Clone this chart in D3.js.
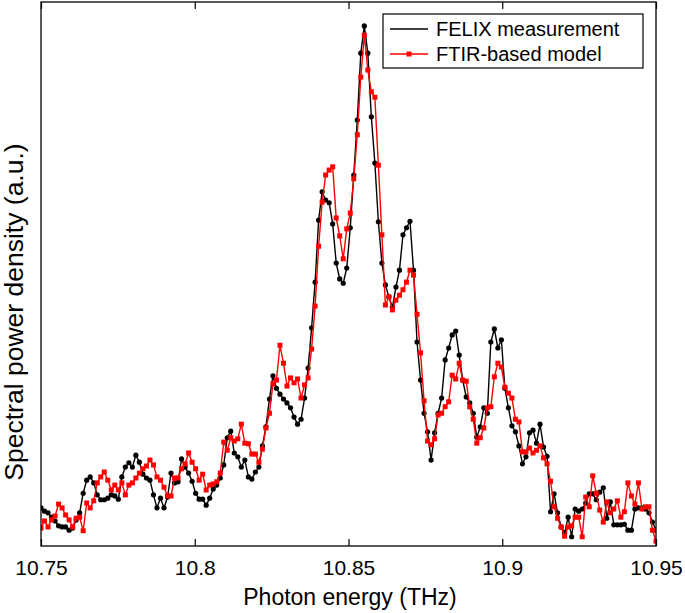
<!DOCTYPE html>
<html>
<head>
<meta charset="utf-8">
<script src="https://cdn.jsdelivr.net/npm/d3@7"></script>
<style>
  html, body { margin: 0; padding: 0; background: #fff; }
  svg { display: block; font-family: "Liberation Sans", Arial, Helvetica, sans-serif; }
</style>
</head>
<body>
<svg id="chart"></svg>
<script>
// Data: spectra sampled on a common photon-energy grid (176 points, 10.75–10.95 THz)
const freqStart = 10.75;
const freqEnd = 10.95;
const nPoints = 176;
const xTicks = [10.75, 10.8, 10.85, 10.9, 10.95];
const seriesNames = ["FELIX measurement", "FTIR-based model"];

// normalised spectral power density (a.u.)
const felix = [
  .070, .064, .061, .053, .046, .037, .035, .035, .029, .033,
  .048, .061, .097, .121, .127, .116, .094, .085, .085, .088,
  .094, .092, .086, .127, .145, .153, .145, .167, .154, .132,
  .125, .121, .094, .070, .088, .070, .090, .134, .116, .118,
  .160, .145, .134, .119, .097, .086, .086, .075, .088, .105,
  .112, .125, .149, .199, .211, .171, .164, .145, .158, .127,
  .123, .136, .145, .184, .219, .270, .313, .290, .279, .270,
  .263, .254, .237, .224, .233, .272, .327, .401, .485, .599,
  .651, .636, .631, .592, .520, .491, .483, .511, .585, .682,
  .783, .906, .956, .906, .789, .704, .596, .520, .480, .458,
  .439, .476, .507, .572, .585, .597, .507, .375, .305, .244,
  .210, .158, .208, .244, .272, .342, .364, .388, .395, .351,
  .305, .274, .263, .244, .200, .219, .254, .244, .375, .399,
  .364, .379, .290, .254, .221, .210, .184, .151, .164, .208,
  .213, .189, .224, .182, .165, .063, .096, .061, .035, .024,
  .053, .017, .068, .064, .068, .079, .096, .096, .085, .099,
  .107, .051, .081, .039, .039, .039, .040, .029, .029, .068,
  .070, .070, .068, .061, .044, .029
];
const ftir = [
  .033, .046, .035, .048, .055, .077, .070, .057, .048, .035,
  .051, .053, .028, .079, .070, .083, .116, .127, .136, .121,
  .103, .112, .103, .116, .094, .112, .116, .125, .134, .142,
  .147, .158, .149, .127, .121, .108, .092, .092, .125, .125,
  .142, .151, .171, .154, .142, .121, .132, .103, .112, .114,
  .118, .134, .191, .176, .199, .193, .197, .224, .189, .188,
  .169, .169, .154, .178, .217, .244, .298, .305, .369, .336,
  .294, .309, .300, .307, .272, .296, .309, .362, .441, .551,
  .632, .682, .691, .697, .603, .570, .528, .583, .612, .675,
  .756, .862, .939, .875, .835, .825, .700, .572, .443, .458,
  .434, .452, .461, .471, .485, .507, .498, .426, .355, .267,
  .193, .186, .197, .241, .244, .256, .265, .314, .307, .336,
  .305, .303, .256, .233, .189, .199, .217, .254, .256, .311,
  .336, .329, .292, .281, .272, .233, .228, .173, .173, .180,
  .171, .176, .184, .162, .151, .119, .072, .051, .035, .018,
  .035, .037, .053, .053, .017, .090, .072, .129, .097, .066,
  .044, .081, .061, .068, .083, .053, .063, .116, .092, .077,
  .116, .068, .072, .072, .029, .009
];

const width = 685, height = 613;
const margin = { top: 2, right: 29, bottom: 67, left: 41 };

const svg = d3.select("#chart")
  .attr("width", width)
  .attr("height", height)
  .attr("viewBox", `0 0 ${width} ${height}`);

const freqs = d3.range(nPoints).map(i => freqStart + i * (freqEnd - freqStart) / (nPoints - 1));

const x = d3.scaleLinear()
  .domain([freqStart, freqEnd])
  .range([margin.left, width - margin.right]);
const y = d3.scaleLinear()
  .domain([0, 1])
  .range([height - margin.bottom, margin.top]);

svg.append("clipPath").attr("id", "plot-clip")
  .append("rect")
  .attr("x", margin.left).attr("y", margin.top)
  .attr("width", width - margin.left - margin.right)
  .attr("height", height - margin.top - margin.bottom);

const line = d3.line()
  .x((d, i) => x(freqs[i]))
  .y(d => y(d));

const plot = svg.append("g").attr("clip-path", "url(#plot-clip)");

// FELIX measurement: black line with round markers
plot.append("path")
  .datum(felix)
  .attr("fill", "none")
  .attr("stroke", "#000")
  .attr("stroke-width", 1.4)
  .attr("d", line);
plot.append("g").selectAll("circle")
  .data(felix)
  .join("circle")
  .attr("cx", (d, i) => x(freqs[i]))
  .attr("cy", d => y(d))
  .attr("r", 2.6)
  .attr("fill", "#000");

// FTIR-based model: red line with square markers
plot.append("path")
  .datum(ftir)
  .attr("fill", "none")
  .attr("stroke", "#f00")
  .attr("stroke-width", 1.4)
  .attr("d", line);
const sq = 5;
plot.append("g").selectAll("rect")
  .data(ftir)
  .join("rect")
  .attr("x", (d, i) => x(freqs[i]) - sq / 2)
  .attr("y", d => y(d) - sq / 2)
  .attr("width", sq)
  .attr("height", sq)
  .attr("fill", "#f00");

// axes box, inward ticks top and bottom
const bottomAxis = svg.append("g")
  .attr("transform", `translate(0,${height - margin.bottom})`)
  .call(d3.axisBottom(x).tickValues(xTicks).tickFormat(d3.format("")).tickSizeInner(-7).tickSizeOuter(0).tickPadding(14));
const topAxis = svg.append("g")
  .attr("transform", `translate(0,${margin.top})`)
  .call(d3.axisTop(x).tickValues(xTicks).tickFormat("").tickSizeInner(-7).tickSizeOuter(0));

[bottomAxis, topAxis].forEach(g => {
  g.select(".domain").remove();
  g.selectAll(".tick line").attr("stroke", "#000").attr("stroke-width", 1.2);
});
bottomAxis.selectAll(".tick text")
  .attr("fill", "#000")
  .style("font-size", "21px");

svg.append("rect")
  .attr("x", margin.left)
  .attr("y", margin.top)
  .attr("width", width - margin.left - margin.right)
  .attr("height", height - margin.top - margin.bottom)
  .attr("fill", "none")
  .attr("stroke", "#000")
  .attr("stroke-width", 1.3);

// axis titles
svg.append("text")
  .attr("x", 350)
  .attr("y", 605)
  .attr("text-anchor", "middle")
  .style("font-size", "23px")
  .text("Photon energy (THz)");

svg.append("text")
  .attr("transform", "translate(23,312) rotate(-90)")
  .attr("text-anchor", "middle")
  .style("font-size", "26.5px")
  .text("Spectral power density (a.u.)");

// legend
const legend = svg.append("g").attr("transform", "translate(383,14)");
legend.append("rect")
  .attr("width", 260).attr("height", 54)
  .attr("fill", "#fff")
  .attr("stroke", "#000")
  .attr("stroke-width", 1.2);

const legendColors = ["#000", "#f00"];
seriesNames.forEach((name, i) => {
  const row = legend.append("g").attr("transform", `translate(0,${15 + i * 25})`);
  row.append("line")
    .attr("x1", 7).attr("x2", 45)
    .attr("stroke", legendColors[i])
    .attr("stroke-width", 1.4);
  if (i === 1) {
    row.append("rect")
      .attr("x", 26 - sq / 2).attr("y", -sq / 2)
      .attr("width", sq).attr("height", sq)
      .attr("fill", "#f00");
  }
  row.append("text")
    .attr("x", 53)
    .attr("y", 7)
    .style("font-size", "20px")
    .text(name);
});
</script>
</body>
</html>
